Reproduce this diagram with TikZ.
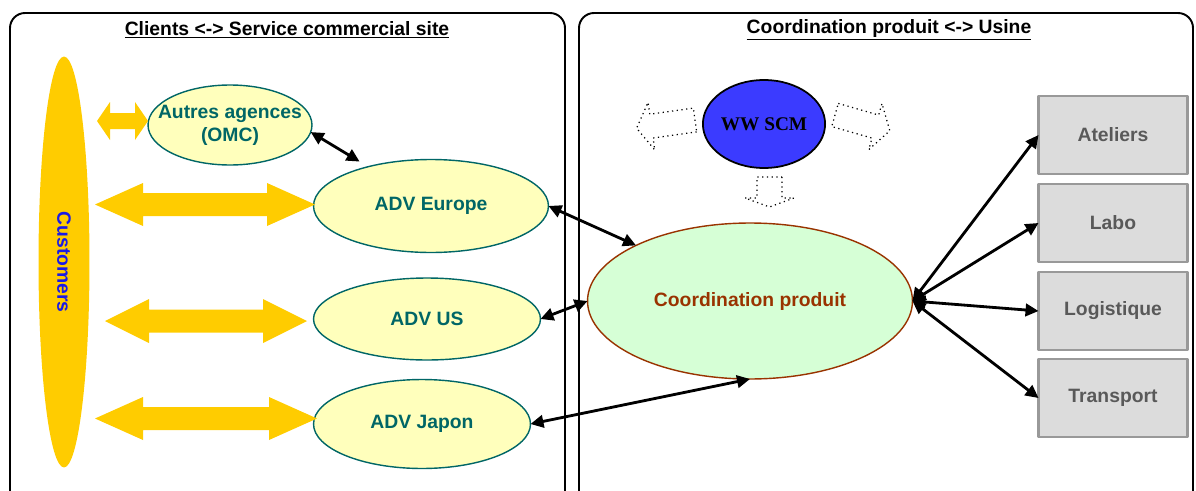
\documentclass[tikz,border=0pt]{standalone}
\usepackage{fontspec}
\setmainfont{Liberation Sans}
\newfontfamily\ScmSerif{Liberation Serif}
\usetikzlibrary{arrows.meta,calc,shapes.geometric}
\definecolor{FlowYellow}{HTML}{FFCC00}
\definecolor{FlowCream}{HTML}{FFFFBC}
\definecolor{FlowTeal}{HTML}{006666}
\definecolor{FlowMint}{HTML}{D6FFD6}
\definecolor{FlowBrown}{HTML}{993300}
\definecolor{FlowBlue}{HTML}{3B3BFF}
\definecolor{FlowBox}{HTML}{DCDCDC}
\definecolor{FlowBoxEdge}{HTML}{999999}
\definecolor{FlowBoxText}{HTML}{595959}
\definecolor{FlowCustText}{HTML}{1A1AE6}
\tikzset{
    flow/diagram/.style={
        x=0.02cm, y=-0.02cm,
        font=\fontsize{11}{13}\selectfont\bfseries,
        line join=round,
        every node/.style={inner sep=0pt, outer sep=0pt}
    },
    flow/panel/.style={draw=black, line width=1.1pt, rounded corners=0.3cm},
    flow/title/.style={text=black},
    flow/customers/.style={
        ellipse, fill=FlowYellow, draw=none,
        minimum width=1.02cm, minimum height=8.22cm
    },
    flow/agency/.style={
        ellipse, draw=FlowTeal, fill=FlowCream, text=FlowTeal,
        line width=0.8pt, align=center
    },
    flow/hub/.style={
        ellipse, draw=FlowBrown, fill=FlowMint, text=FlowBrown,
        line width=0.8pt, minimum width=6.5cm, minimum height=3.12cm
    },
    flow/scm/.style={
        ellipse, draw=black, fill=FlowBlue, line width=1pt,
        minimum width=1.96cm, minimum height=1.76cm,
        font=\ScmSerif\fontsize{11}{13}\selectfont\bfseries
    },
    flow/plant/.style={
        rectangle, draw=FlowBoxEdge, fill=FlowBox, text=FlowBoxText,
        line width=1.2pt, minimum width=2.98cm, minimum height=1.56cm
    },
    flow/link/.style={
        draw=black, line width=1.6pt,
        {Triangle[length=2.6mm, width=2.5mm]}-{Triangle[length=2.6mm, width=2.5mm]}
    },
    flow/channel/.style={fill=FlowYellow, draw=none},
    flow/hint/.style={draw=black, fill=white, line width=0.7pt, dotted}
}
% yellow two-way arrow: x1, x2, y, head length, head half, shaft half
\newcommand\TwinArrow[6]{%
    \fill[flow/channel] (#1,#3) -- ({#1+#4},{#3-#5}) -- ({#1+#4},{#3-#6})
        -- ({#2-#4},{#3-#6}) -- ({#2-#4},{#3-#5}) -- (#2,#3)
        -- ({#2-#4},{#3+#5}) -- ({#2-#4},{#3+#6}) -- ({#1+#4},{#3+#6})
        -- ({#1+#4},{#3+#5}) -- cycle;}
% dotted block arrow, tail at origin: length, head length, shaft half, head half
\newcommand\HollowArrow[4]{%
    \filldraw[flow/hint] (0,-#3) -- ({#1-#2},-#3) -- ({#1-#2},-#4) -- (#1,0)
        -- ({#1-#2},#4) -- ({#1-#2},#3) -- (0,#3) -- cycle;}

\begin{document}
\begin{tikzpicture}[flow/diagram]
    \useasboundingbox (0,0) rectangle (1196,490);
    \begin{scope}
        \clip (0,0) rectangle (1196,490);
        \draw[flow/panel] (10,13) rectangle (565,520);
        \draw[flow/panel] (579,13) rectangle (1193,520);
    \end{scope}
    \node[flow/title] (titleL) at (287,30) {\underline{Clients <-> Service commercial site}};
    \node[flow/title] (titleR) at (889,30) {\underline{Coordination produit <-> Usine}};

    % customers side
    \node[flow/customers] (cust) at (64,262) {};
    \node[rotate=-90, text=FlowCustText] (custtext) at (cust) {Customers};
    \node[flow/agency, minimum width=3.28cm, minimum height=1.6cm] (omc) at (230,125) {};
    \node[text=FlowTeal, align=center] (omctext) at (omc) {Autres agences\\(OMC)};
    \node[flow/agency, minimum width=4.7cm, minimum height=1.86cm] (europe) at (431,206) {ADV Europe};
    \node[flow/agency, minimum width=4.54cm, minimum height=1.64cm] (us) at (427,319) {ADV US};
    \node[flow/agency, minimum width=4.34cm, minimum height=1.78cm] (japon) at (422,424) {ADV Japon};
    \TwinArrow{97}{148}{121}{13}{19}{8}
    \TwinArrow{95}{315}{204.5}{48}{21.5}{11.5}
    \TwinArrow{105}{307}{321}{44}{22}{11.5}
    \TwinArrow{95}{317}{418.5}{48}{21.5}{11.5}

    % coordination
    \node[flow/hub] (coord) at (750,301) {Coordination produit};
    \node[flow/scm] (scm) at (764,124) {WW SCM};
    \begin{scope}[shift={(695,120)}, rotate=188]
        \HollowArrow{59}{15}{12}{24}
    \end{scope}
    \begin{scope}[shift={(835,115)}, rotate=-16]
        \HollowArrow{57}{15}{12}{24}
    \end{scope}
    \begin{scope}[shift={(769.5,177)}, rotate=-90]
        \HollowArrow{30}{9}{12.5}{24.5}
    \end{scope}

    % usine
    \node[flow/plant] (ateliers) at (1113,135) {Ateliers};
    \node[flow/plant] (labo) at (1113,223) {Labo};
    \node[flow/plant] (logistique) at (1113,311) {Logistique};
    \node[flow/plant] (transport) at (1113,398) {Transport};

    \draw[flow/link, shorten >=0.2cm] (omc.-5) -- (europe.148);
    \draw[flow/link] (europe.east) -- (coord.154);
    \draw[flow/link] (us.east) -- (coord.west);
    \draw[flow/link] (japon.east) -- (coord.south);
    \foreach \unit in {ateliers,labo,logistique,transport}
        \draw[flow/link] (coord.east) -- (\unit.west);
\end{tikzpicture}
\end{document}
